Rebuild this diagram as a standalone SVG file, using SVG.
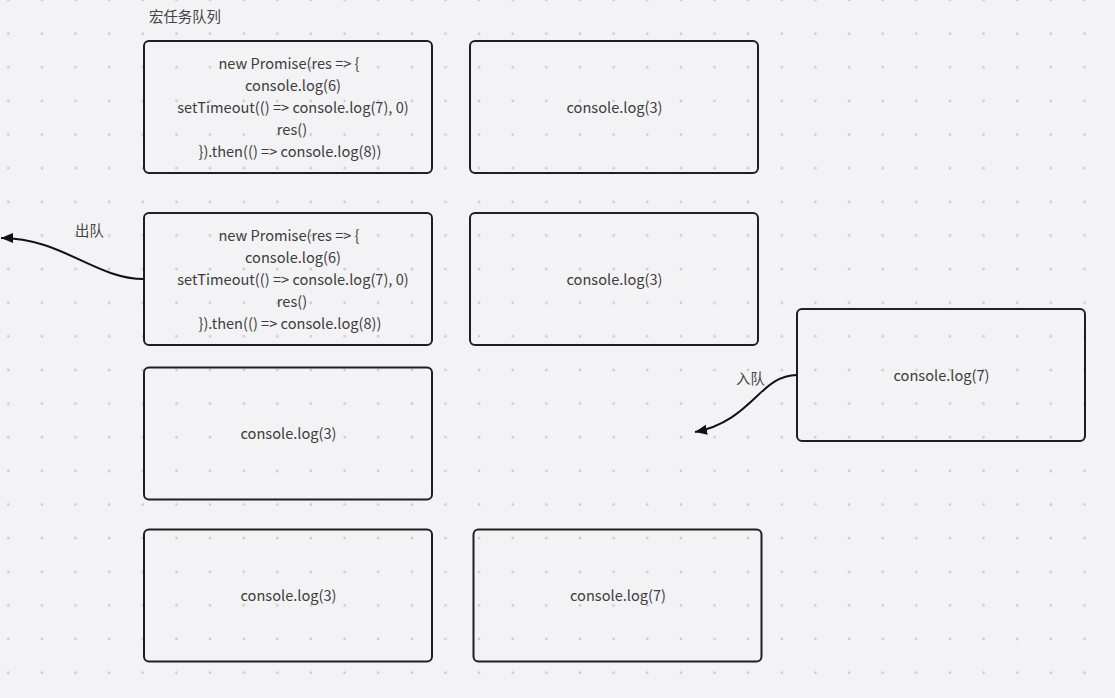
<svg xmlns="http://www.w3.org/2000/svg" width="1115" height="698" viewBox="0 0 1115 698">
<style>
.box{fill:none;stroke:#1f1f1f;stroke-width:2}
.t{font-family:"Noto Sans CJK SC","Source Sans Pro","Noto Sans",sans-serif;font-size:14.6px;fill:#3c3c3c;text-anchor:middle}
.lbl{font-family:"Noto Sans CJK SC","Noto Sans",sans-serif;font-size:14.4px;fill:#444}
.conn{fill:none;stroke:#111;stroke-width:2}
</style>
<defs>
<pattern id="dots" patternUnits="userSpaceOnUse" x="-8.5" y="-16.8" width="33.63" height="33.63">
<rect x="15.6" y="15.6" width="2.4" height="2.4" fill="#cacacd"/>
</pattern>
<marker id="arr" markerUnits="userSpaceOnUse" markerWidth="14" markerHeight="12" refX="12" refY="5" orient="auto">
<path d="M0,0 L12,5 L0,10 z" fill="#111"/>
</marker>
</defs>
<rect width="1115" height="698" fill="#f3f3f5"/>
<rect width="1115" height="698" fill="url(#dots)"/>
<text class="lbl" x="149" y="22">宏任务队列</text>

<g id="nodeA">
<rect class="box" x="144" y="41" width="288" height="132" rx="5"/>
<text class="t" y="68.5"><tspan x="289">new Promise(res =&gt; {</tspan><tspan x="293" y="90.5">console.log(6)</tspan><tspan x="293" y="112.5">setTimeout(() =&gt; console.log(7), 0)</tspan><tspan x="292" y="134.5">res()</tspan><tspan x="290" y="156.5">}).then(() =&gt; console.log(8))</tspan></text>
</g>
<g id="nodeB">
<rect class="box" x="470" y="41" width="288" height="132" rx="5"/>
<text class="t" x="614.5" y="112.5">console.log(3)</text>
</g>
<g id="nodeC">
<rect class="box" x="144" y="213" width="288" height="132" rx="5"/>
<text class="t" y="240.5"><tspan x="289">new Promise(res =&gt; {</tspan><tspan x="293" y="262.5">console.log(6)</tspan><tspan x="293" y="284.5">setTimeout(() =&gt; console.log(7), 0)</tspan><tspan x="292" y="306.5">res()</tspan><tspan x="290" y="328.5">}).then(() =&gt; console.log(8))</tspan></text>
</g>
<g id="nodeD">
<rect class="box" x="470" y="213" width="288" height="132" rx="5"/>
<text class="t" x="614.5" y="284.5">console.log(3)</text>
</g>
<g id="nodeE">
<rect class="box" x="797" y="309" width="288" height="132" rx="5"/>
<text class="t" x="941.5" y="380.5">console.log(7)</text>
</g>
<g id="nodeF">
<rect class="box" x="144" y="367.5" width="288" height="132" rx="5"/>
<text class="t" x="288.5" y="439">console.log(3)</text>
</g>
<g id="nodeG">
<rect class="box" x="144" y="529.5" width="288" height="132" rx="5"/>
<text class="t" x="288.5" y="600.5">console.log(3)</text>
</g>
<g id="nodeH">
<rect class="box" x="473.5" y="529.5" width="288" height="132" rx="5"/>
<text class="t" x="618" y="600.5">console.log(7)</text>
</g>

<g id="connectors">
<path class="conn" d="M144,279 C95,279 62,238 1,238" marker-end="url(#arr)"/>
<text class="lbl" x="75" y="236">出队</text>
<path class="conn" d="M797,375 C760,375 752,421 695,432" marker-end="url(#arr)"/>
<text class="lbl" x="736" y="384">入队</text>
</g>
</svg>
